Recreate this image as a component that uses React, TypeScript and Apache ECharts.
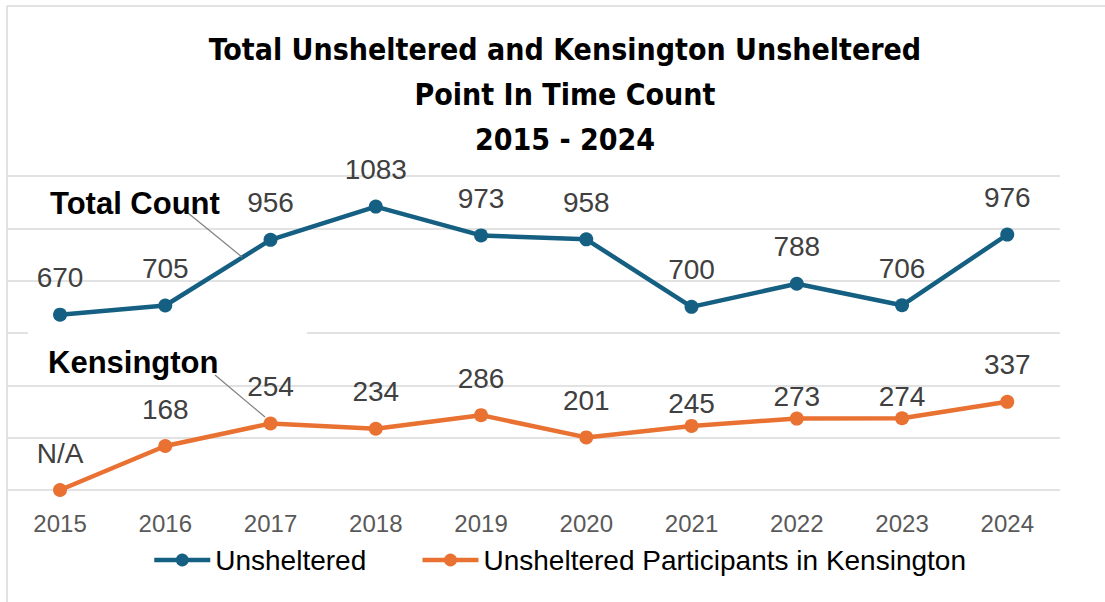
import React, { useEffect, useRef } from "react";
import * as echarts from "echarts";

const years = ["2015", "2016", "2017", "2018", "2019", "2020", "2021", "2022", "2023", "2024"];
const unsheltered = [670, 705, 956, 1083, 973, 958, 700, 788, 706, 976];
const kensington = [0, 168, 254, 234, 286, 201, 245, 273, 274, 337];
const kensingtonLabels = ["N/A", "168", "254", "234", "286", "201", "245", "273", "274", "337"];
const closeLabelYears = ["2021", "2022", "2023"];
const yMin = 0;
const yMax = 1200;
const yInterval = 200;
const titleLines = ["Total Unsheltered and Kensington Unsheltered", "Point In Time Count", "2015 - 2024"];
const seriesNames = ["Unsheltered", "Unsheltered Participants in Kensington"];

const BLUE = "#156082";
const ORANGE = "#E97132";
const LABEL_FONT = "'Liberation Sans', Arial, sans-serif";
const NARROW = "'Liberation Sans Narrow', 'DejaVu Sans Condensed', sans-serif";

export default function App() {
  const ref = useRef<HTMLDivElement>(null);
  useEffect(() => {
    document.body.style.margin = "0";
    const chart = echarts.init(ref.current!, null, { renderer: "svg" });
    const labelStyle = {
      show: true,
      position: "top",
      distance: 16,
      fontSize: 28,
      color: "#404040",
      fontFamily: LABEL_FONT,
    };
    chart.setOption({
      animation: false,
      backgroundColor: "#ffffff",
      title: {
        text: titleLines.join("\n"),
        left: 560,
        textAlign: "center",
        top: 22,
        textStyle: {
          fontSize: 30,
          fontWeight: "bold",
          lineHeight: 45,
          color: "#000000",
          fontFamily: NARROW,
        },
      },
      legend: {
        left: 147,
        top: 541,
        itemWidth: 56,
        itemHeight: 16,
        itemGap: 54,
        lineStyle: { width: 4.5 },
        textStyle: { fontSize: 28, color: "#000000", fontFamily: LABEL_FONT },
        data: seriesNames,
      },
      grid: { left: 7.4, width: 1052.5, top: 176, height: 314, containLabel: false },
      xAxis: {
        type: "category",
        data: years,
        boundaryGap: true,
        axisLine: { show: false },
        axisTick: { show: false },
        axisLabel: { fontSize: 24, color: "#595959", margin: 21, fontFamily: LABEL_FONT },
      },
      yAxis: {
        type: "value",
        min: yMin,
        max: yMax,
        interval: yInterval,
        axisLabel: { show: false },
        axisLine: { show: false },
        axisTick: { show: false },
        splitLine: { lineStyle: { color: "#d9d9d9", width: 1.5 } },
      },
      series: [
        {
          name: seriesNames[0],
          type: "line",
          data: unsheltered,
          symbol: "circle",
          symbolSize: 14,
          color: BLUE,
          lineStyle: { width: 4.5, color: BLUE },
          itemStyle: { color: BLUE },
          label: labelStyle,
        },
        {
          name: seriesNames[1],
          type: "line",
          data: kensington.map((v, i) => ({
            value: v,
            label: closeLabelYears.includes(years[i]) ? { distance: 1 } : undefined,
          })),
          symbol: "circle",
          symbolSize: 14,
          color: ORANGE,
          lineStyle: { width: 4.5, color: ORANGE },
          itemStyle: { color: ORANGE },
          label: { ...labelStyle, formatter: (p: any) => kensingtonLabels[p.dataIndex] },
        },
      ],
      graphic: [
        { type: "line", z: 1, shape: { x1: 7, y1: 6, x2: 7, y2: 602 }, style: { stroke: "#d9d9d9", lineWidth: 1.5 } },
        { type: "line", z: 1, shape: { x1: 7, y1: 6, x2: 1105, y2: 6 }, style: { stroke: "#d9d9d9", lineWidth: 1.5 } },
        { type: "rect", z: 1, shape: { x: 28, y: 330, width: 279, height: 6 }, style: { fill: "#ffffff" } },
        { type: "line", z: 5, shape: { x1: 188, y1: 213, x2: 242, y2: 257 }, style: { stroke: "#7f7f7f", lineWidth: 1.2 } },
        { type: "line", z: 5, shape: { x1: 215, y1: 375, x2: 265, y2: 417 }, style: { stroke: "#7f7f7f", lineWidth: 1.2 } },
        {
          type: "text", z: 5, x: 50, y: 203,
          style: { text: "Total Count", fontSize: 31, fontWeight: "bold", fill: "#000000", fontFamily: LABEL_FONT, textVerticalAlign: "middle", verticalAlign: "middle" },
        },
        {
          type: "text", z: 5, x: 48, y: 362,
          style: { text: "Kensington", fontSize: 31, fontWeight: "bold", fill: "#000000", fontFamily: LABEL_FONT, textVerticalAlign: "middle", verticalAlign: "middle" },
        },
      ],
    });
    return () => chart.dispose();
  }, []);
  return <div ref={ref} style={{ width: 1105, height: 602 }} />;
}
